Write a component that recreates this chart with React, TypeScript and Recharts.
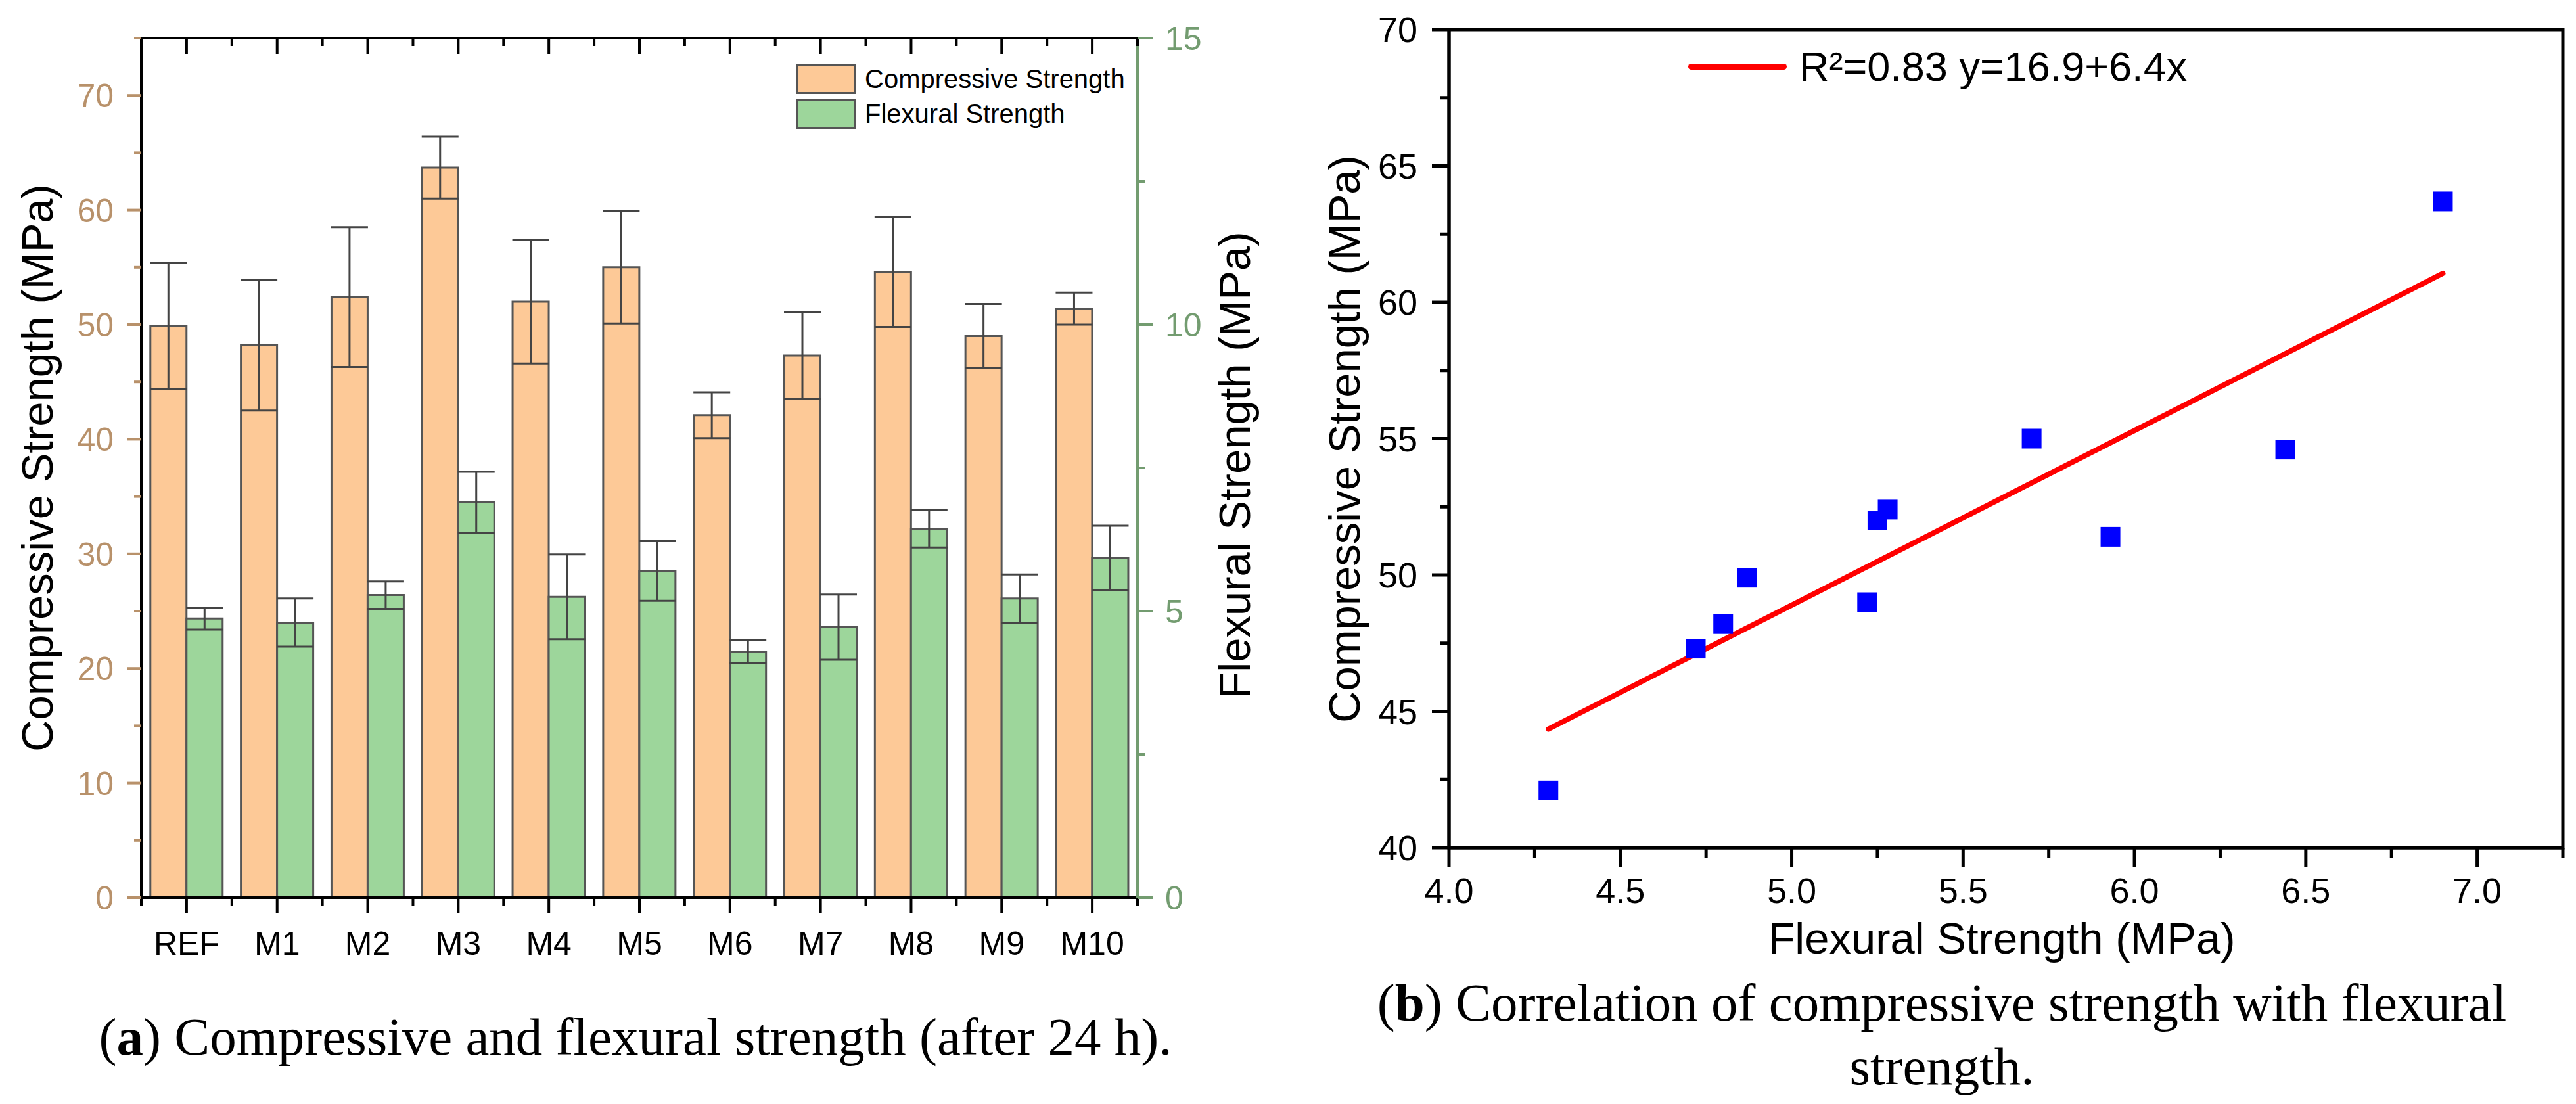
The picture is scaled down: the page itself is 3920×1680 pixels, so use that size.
import React from "react";
import {
  Bar,
  BarChart,
  ErrorBar,
  Legend,
  ReferenceArea,
  Scatter,
  ScatterChart,
  XAxis,
  YAxis,
} from "recharts";

const SANS = "'Liberation Sans', Arial, Helvetica, sans-serif";
const SERIF = "'Liberation Serif', 'Times New Roman', serif";
const TAN = "#B8916A";
const GREEN_AXIS = "#739C70";
const ORANGE = "#FDC997";
const GREEN = "#9DD69B";
const EDGE = "#555555";
const WHISKER = "#444444";
const BLUE = "#0000FF";
const RED = "#FF0000";

// values
const mixes = ["REF", "M1", "M2", "M3", "M4", "M5", "M6", "M7", "M8", "M9", "M10"];
const compressive = [49.9, 48.2, 52.4, 63.7, 52.0, 55.0, 42.1, 47.3, 54.6, 49.0, 51.4];
const compressiveErr = [5.5, 5.7, 6.1, 2.7, 5.4, 4.9, 2.0, 3.8, 4.8, 2.8, 1.4];
const flexural = [4.87, 4.8, 5.28, 6.9, 5.25, 5.7, 4.29, 4.72, 6.44, 5.22, 5.93];
const flexuralErr = [0.19, 0.42, 0.24, 0.53, 0.74, 0.52, 0.2, 0.57, 0.33, 0.42, 0.56];

const compTicks = [0, 5, 10, 15, 20, 25, 30, 35, 40, 45, 50, 55, 60, 65, 70, 75];
const flexTicks = [0, 2.5, 5, 7.5, 10, 12.5, 15];
const corrXTicks = [4, 4.25, 4.5, 4.75, 5, 5.25, 5.5, 5.75, 6, 6.25, 6.5, 6.75, 7, 7.25];
const corrYTicks = [40, 42.5, 45, 47.5, 50, 52.5, 55, 57.5, 60, 62.5, 65, 67.5, 70];

// fitted line endpoints as drawn
const fitX = [4.29, 6.9];
const fitY = [44.35, 61.06];
const fitName = "R\u00b2=0.83 y=16.9+6.4x";

const barData = mixes.map((name, i) => ({
  name,
  comp: compressive[i],
  compErr: compressiveErr[i],
  flex: flexural[i],
  flexErr: flexuralErr[i],
}));
const pointData = mixes.map((name, i) => ({ name, x: flexural[i], y: compressive[i] }));
const fitData = fitX.map((x, i) => ({ x, y: fitY[i] }));

// layout of panel (a)
const A_W = 1960;
const A_H = 1680;
const A_LEFT = 215;
const A_RIGHT = 1731;
const A_TOP = 58;
const A_BOTTOM = 1366;
const BAND = (A_RIGHT - A_LEFT) / mixes.length;

// layout of panel (b)
const B_W = 1960;
const B_H = 1680;
const B_LEFT = 245;
const B_RIGHT = 1940;
const B_TOP = 45;
const B_BOTTOM = 1290;

type TickProps = {
  x?: number;
  y?: number;
  index?: number;
  payload?: { value: any; offset?: number };
};

function CompTick({ x = 0, y = 0, payload }: TickProps) {
  const v = Number(payload?.value);
  const major = v % 10 === 0;
  return (
    <g>
      <line x1={x} x2={x - (major ? 22 : 11)} y1={y} y2={y} stroke={TAN} strokeWidth={4} />
      {major ? (
        <text x={x - 42} y={y} dy="0.36em" textAnchor="end" fill={TAN} fontSize={50} fontFamily={SANS}>
          {v}
        </text>
      ) : null}
    </g>
  );
}

function FlexTick({ x = 0, y = 0, payload }: TickProps) {
  const v = Number(payload?.value);
  const major = v % 5 === 0;
  return (
    <g>
      <line x1={x} x2={x + (major ? 24 : 12)} y1={y} y2={y} stroke={GREEN_AXIS} strokeWidth={4} />
      {major ? (
        <text x={x + 42} y={y} dy="0.36em" textAnchor="start" fill={GREEN_AXIS} fontSize={50} fontFamily={SANS}>
          {v}
        </text>
      ) : null}
    </g>
  );
}

function MixTick({ x = 0, y = 0, payload, index = 0 }: TickProps) {
  const half = BAND / 2;
  const last = index === mixes.length - 1;
  return (
    <g>
      <line x1={x} x2={x} y1={y} y2={y + 24} stroke="#000" strokeWidth={4} />
      <line x1={x - half} x2={x - half} y1={y} y2={y + 12} stroke="#000" strokeWidth={4} />
      {last ? <line x1={x + half} x2={x + half} y1={y} y2={y + 12} stroke="#000" strokeWidth={4} /> : null}
      <text x={x} y={y + 69} dy="0.36em" textAnchor="middle" fill="#000" fontSize={50} fontFamily={SANS}>
        {payload?.value}
      </text>
    </g>
  );
}

function TopTick({ x = 0, y = 0 }: TickProps) {
  const half = BAND / 2;
  return (
    <g>
      <line x1={x} x2={x} y1={y} y2={y + 24} stroke="#000" strokeWidth={4} />
      <line x1={x + half} x2={x + half} y1={y} y2={y + 12} stroke="#000" strokeWidth={4} />
    </g>
  );
}

function CorrYTick({ x = 0, y = 0, payload }: TickProps) {
  const v = Number(payload?.value);
  const major = v % 5 === 0;
  return (
    <g>
      <line x1={x} x2={x - (major ? 26 : 13)} y1={y} y2={y} stroke="#000" strokeWidth={5} />
      {major ? (
        <text x={x - 48} y={y} dy="0.36em" textAnchor="end" fill="#000" fontSize={54} fontFamily={SANS}>
          {v}
        </text>
      ) : null}
    </g>
  );
}

function CorrXTick({ x = 0, y = 0, payload }: TickProps) {
  const v = Number(payload?.value);
  const major = Math.abs(v * 2 - Math.round(v * 2)) < 1e-6;
  return (
    <g>
      <line x1={x} x2={x} y1={y} y2={y + (major ? 30 : 15)} stroke="#000" strokeWidth={5} />
      {major ? (
        <text x={x} y={y + 65} dy="0.36em" textAnchor="middle" fill="#000" fontSize={54} fontFamily={SANS}>
          {v.toFixed(1)}
        </text>
      ) : null}
    </g>
  );
}

function AxisTitle({ x, y, text, rotate = false }: { x: number; y: number; text: string; rotate?: boolean }) {
  return (
    <text
      x={x}
      y={y}
      transform={rotate ? `rotate(-90 ${x} ${y})` : undefined}
      textAnchor="middle"
      dominantBaseline="central"
      fill="#000"
      fontSize={67}
      fontFamily={SANS}
    >
      {text}
    </text>
  );
}

function BarLegend({ payload }: any) {
  return (
    <div style={{ display: "flex", flexDirection: "column", gap: 7 }}>
      {(payload ?? []).map((e: any) => (
        <div key={e.value} style={{ display: "flex", alignItems: "center", height: 46 }}>
          <span
            style={{
              display: "inline-block",
              width: 90,
              height: 46,
              boxSizing: "border-box",
              background: e.color,
              border: `3px solid ${EDGE}`,
            }}
          />
          <span style={{ marginLeft: 14, fontSize: 40, fontFamily: SANS, color: "#000", whiteSpace: "nowrap" }}>
            {e.value}
          </span>
        </div>
      ))}
    </div>
  );
}

function FitLegend({ payload }: any) {
  const entries = (payload ?? []).filter((e: any) => e.type !== "none" && e.value === fitName);
  return (
    <div>
      {entries.map((e: any) => (
        <div key={e.value} style={{ display: "flex", alignItems: "center", height: 80 }}>
          <span style={{ display: "inline-block", width: 150, height: 9, borderRadius: 5, background: RED }} />
          <span style={{ marginLeft: 19, fontSize: 63, fontFamily: SANS, color: "#000", whiteSpace: "nowrap" }}>
            {e.value}
          </span>
        </div>
      ))}
    </div>
  );
}

function SquareDot({ cx = 0, cy = 0 }: { cx?: number; cy?: number }) {
  return <rect x={cx - 15} y={cy - 15} width={30} height={30} fill={BLUE} />;
}

function StrengthBars() {
  return (
    <BarChart
      width={A_W}
      height={A_H}
      data={barData}
      margin={{ top: A_TOP, right: 0, bottom: 0, left: 0 }}
      barCategoryGap="10%"
      barGap={0}
    >
      <XAxis
        dataKey="name"
        height={A_H - A_BOTTOM}
        axisLine={{ stroke: "#000", strokeWidth: 4 }}
        tickLine={false}
        tickSize={0}
        tickMargin={0}
        interval={0}
        tick={(p: any) => <MixTick {...p} />}
      />
      <XAxis
        xAxisId="top"
        dataKey="name"
        orientation="top"
        mirror
        height={1}
        axisLine={{ stroke: "#000", strokeWidth: 4 }}
        tickLine={false}
        tickSize={0}
        tickMargin={0}
        interval={0}
        tick={(p: any) => <TopTick {...p} />}
      />
      <YAxis
        yAxisId="left"
        type="number"
        domain={[0, 75]}
        ticks={compTicks}
        interval={0}
        width={A_LEFT}
        axisLine={{ stroke: "#000", strokeWidth: 4 }}
        tickLine={false}
        tickSize={0}
        tickMargin={0}
        tick={(p: any) => <CompTick {...p} />}
        label={{ content: () => <AxisTitle x={56} y={712} rotate text="Compressive Strength (MPa)" /> }}
      />
      <YAxis
        yAxisId="right"
        orientation="right"
        type="number"
        domain={[0, 15]}
        ticks={flexTicks}
        interval={0}
        width={A_W - A_RIGHT}
        axisLine={{ stroke: GREEN_AXIS, strokeWidth: 4 }}
        tickLine={false}
        tickSize={0}
        tickMargin={0}
        tick={(p: any) => <FlexTick {...p} />}
        label={{ content: () => <AxisTitle x={1878} y={708} rotate text="Flexural Strength (MPa)" /> }}
      />
      <Legend
        content={BarLegend}
        layout="horizontal"
        verticalAlign="middle"
        align="center"
        wrapperStyle={{ left: 1212, top: 97, width: 520 }}
      />
      <Bar
        yAxisId="left"
        dataKey="comp"
        name="Compressive Strength"
        fill={ORANGE}
        stroke={EDGE}
        strokeWidth={3}
        isAnimationActive={false}
      >
        <ErrorBar dataKey="compErr" width={28} stroke={WHISKER} strokeWidth={3} direction="y" isAnimationActive={false} />
      </Bar>
      <Bar
        yAxisId="right"
        dataKey="flex"
        name="Flexural Strength"
        fill={GREEN}
        stroke={EDGE}
        strokeWidth={3}
        isAnimationActive={false}
      >
        <ErrorBar dataKey="flexErr" width={28} stroke={WHISKER} strokeWidth={3} direction="y" isAnimationActive={false} />
      </Bar>
    </BarChart>
  );
}

function Correlation() {
  return (
    <ScatterChart width={B_W} height={B_H} margin={{ top: B_TOP, right: B_W - B_RIGHT, bottom: 0, left: 0 }}>
      <XAxis
        type="number"
        dataKey="x"
        domain={[4, 7.25]}
        ticks={corrXTicks}
        interval={0}
        allowDataOverflow
        height={B_H - B_BOTTOM}
        axisLine={{ stroke: "#000", strokeWidth: 5 }}
        tickLine={false}
        tickSize={0}
        tickMargin={0}
        tick={(p: any) => <CorrXTick {...p} />}
        label={{ content: () => <AxisTitle x={1086} y={1427} text="Flexural Strength (MPa)" /> }}
      />
      <YAxis
        type="number"
        dataKey="y"
        domain={[40, 70]}
        ticks={corrYTicks}
        interval={0}
        allowDataOverflow
        width={B_LEFT}
        axisLine={{ stroke: "#000", strokeWidth: 5 }}
        tickLine={false}
        tickSize={0}
        tickMargin={0}
        tick={(p: any) => <CorrYTick {...p} />}
        label={{ content: () => <AxisTitle x={85} y={668} rotate text="Compressive Strength (MPa)" /> }}
      />
      <ReferenceArea x1={4} x2={7.25} y1={40} y2={70} fill="none" stroke="#000" strokeWidth={5} ifOverflow="visible" />
      <Legend
        content={FitLegend}
        layout="horizontal"
        verticalAlign="middle"
        align="center"
        wrapperStyle={{ left: 609, top: 61, width: 900 }}
      />
      <Scatter
        data={fitData}
        name={fitName}
        fill={RED}
        line={{ stroke: RED, strokeWidth: 8, strokeLinecap: "round" }}
        shape={() => <g />}
        isAnimationActive={false}
      />
      <Scatter
        data={pointData}
        name="Mixes"
        legendType="none"
        fill={BLUE}
        shape={(p: any) => <SquareDot {...p} />}
        isAnimationActive={false}
      />
    </ScatterChart>
  );
}

export default function App() {
  return (
    <div style={{ position: "relative", width: 3920, height: 1680, background: "#fff", overflow: "hidden" }}>
      <style>{"body{margin:0;background:#fff}"}</style>
      <div style={{ position: "absolute", left: 0, top: 0 }}>
        <StrengthBars />
      </div>
      <div style={{ position: "absolute", left: 1960, top: 0 }}>
        <Correlation />
      </div>
      <div
        style={{
          position: "absolute",
          left: 67,
          top: 1530,
          width: 1800,
          textAlign: "center",
          fontFamily: SERIF,
          fontSize: 81,
          lineHeight: "97px",
          whiteSpace: "nowrap",
          color: "#000",
        }}
      >
        (<b>a</b>) Compressive and flexural strength (after 24 h).
      </div>
      <div
        style={{
          position: "absolute",
          left: 2005,
          top: 1478,
          width: 1900,
          textAlign: "center",
          fontFamily: SERIF,
          fontSize: 81,
          lineHeight: "97px",
          whiteSpace: "nowrap",
          color: "#000",
        }}
      >
        (<b>b</b>) Correlation of compressive strength with flexural
        <br />
        strength.
      </div>
    </div>
  );
}
